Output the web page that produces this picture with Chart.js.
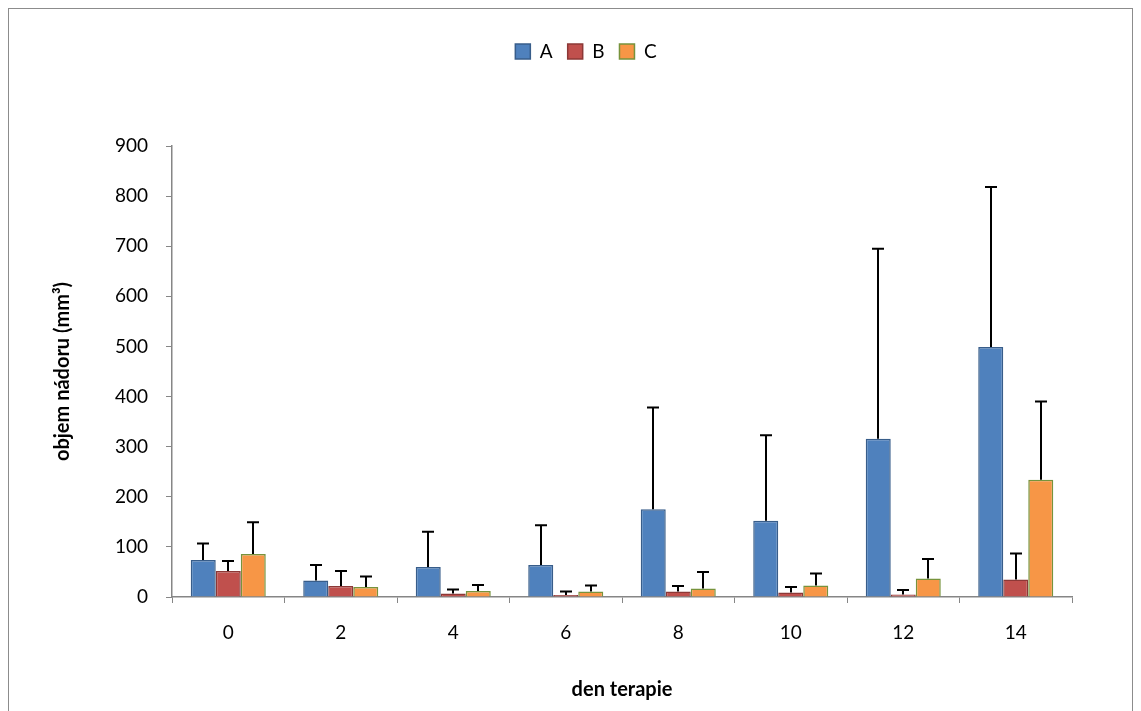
<!DOCTYPE html>
<html>
<head>
<meta charset="utf-8">
<script src="https://cdn.jsdelivr.net/npm/chart.js@4/dist/chart.umd.min.js"></script>
<style>
  body { margin: 0; background: #fff; }
  #wrap { width: 1141px; height: 711px; }
</style>
</head>
<body>
<div id="wrap"><canvas id="c" width="1141" height="711"></canvas></div>
<script>
const days = ["0", "2", "4", "6", "8", "10", "12", "14"];
const valuesA = [74, 33, 60, 64, 175, 152, 316, 499];
const valuesB = [52, 22, 7, 4, 11, 9, 5, 35];
const valuesC = [86, 20, 12, 11, 17, 23, 37, 234];
const errA = [33, 31, 70, 79, 203, 171, 379, 319];
const errB = [20, 30, 8, 7, 11, 11, 9, 52];
const errC = [63, 21, 12, 12, 33, 24, 39, 156];
const errors = [errA, errB, errC];

const FONT = "Lato, 'Liberation Sans', sans-serif";

// outer frame + legend placement
const framePlugin = {
  id: 'frame',
  beforeInit(chart) {
    // leave extra room below the legend, like the original
    const fit = chart.legend.fit;
    chart.legend.fit = function () {
      fit.call(this);
      this.height += 75;
    };
  },
  afterLayout(chart) {
    // legend sits a bit right of the canvas centre in the original
    chart.legend.left += 45;
    chart.legend.right += 45;
  },
  beforeDraw(chart) {
    const ctx = chart.ctx;
    ctx.save();
    ctx.fillStyle = '#fff';
    ctx.fillRect(0, 0, chart.width, chart.height);
    ctx.strokeStyle = '#8c8c8c';
    ctx.lineWidth = 1;
    ctx.strokeRect(8.5, 8.5, 1124, 720);
    ctx.restore();
  }
};

// upward-only error bars with caps
const errorBarPlugin = {
  id: 'errbars',
  afterDatasetsDraw(chart) {
    const ctx = chart.ctx;
    const y = chart.scales.y;
    ctx.save();
    ctx.strokeStyle = '#000';
    ctx.lineWidth = 2;
    chart.data.datasets.forEach((ds, di) => {
      const meta = chart.getDatasetMeta(di);
      meta.data.forEach((bar, i) => {
        const top = y.getPixelForValue(ds.data[i] + errors[di][i]);
        const x = Math.round(bar.x);
        ctx.beginPath();
        ctx.moveTo(x, bar.y);
        ctx.lineTo(x, top);
        ctx.moveTo(x - 6, top);
        ctx.lineTo(x + 6, top);
        ctx.stroke();
      });
    });
    ctx.restore();
  }
};

new Chart(document.getElementById("c"), {
  type: 'bar',
  data: {
    labels: days,
    datasets: [
      { label: "A", data: valuesA, backgroundColor: '#4F81BD', borderColor: '#385D8A', borderWidth: 1.5 },
      { label: "B", data: valuesB, backgroundColor: '#C0504D', borderColor: '#8C3836', borderWidth: 1.5 },
      { label: "C", data: valuesC, backgroundColor: '#F79646', borderColor: '#77933C', borderWidth: 1.5 }
    ]
  },
  options: {
    responsive: false,
    animation: false,
    layout: { padding: { left: 10, right: 69, top: 27, bottom: 0 } },
    datasets: {
      bar: { barPercentage: 1, categoryPercentage: 0.667 }
    },
    plugins: {
      legend: {
        position: 'top',
        labels: {
          boxWidth: 15,
          boxHeight: 15,
          padding: 15,
          color: '#000',
          font: { family: FONT, size: 19 }
        }
      },
      tooltip: { enabled: false }
    },
    scales: {
      x: {
        afterFit(s) { s.height = 114; },
        grid: { display: true, drawOnChartArea: false, drawTicks: true, tickLength: 6, color: '#868686', offset: true },
        border: { color: '#868686', width: 1.5 },
        ticks: { color: '#000', padding: 18, font: { family: FONT, size: 19 } },
        title: { display: true, text: 'den terapie', color: '#000', padding: { top: 0, bottom: 9 }, font: { family: FONT, size: 20, weight: 'bold' } }
      },
      y: {
        min: 0,
        max: 900,
        afterFit(s) { s.width = 162; },
        grid: { display: true, drawOnChartArea: false, drawTicks: true, tickLength: 6, color: '#868686' },
        border: { color: '#868686', width: 1.5 },
        ticks: { stepSize: 100, color: '#000', padding: 18, font: { family: FONT, size: 19 } },
        title: { display: true, text: 'objem nádoru (mm³)', color: '#000', padding: { top: 41, bottom: 0 }, font: { family: FONT, size: 20, weight: 'bold' } }
      }
    }
  },
  plugins: [framePlugin, errorBarPlugin]
});
</script>
</body>
</html>
